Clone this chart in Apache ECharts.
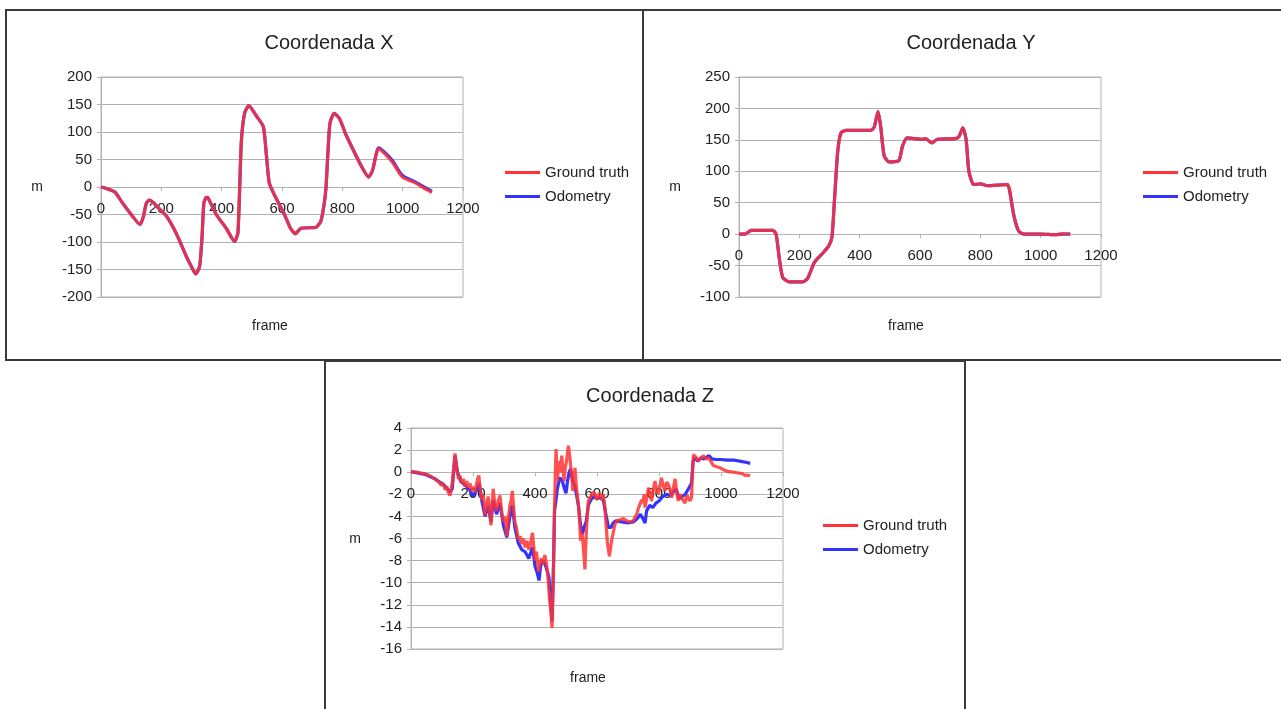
<!DOCTYPE html>
<html>
<head>
<meta charset="utf-8">
<script src="https://cdn.jsdelivr.net/npm/echarts@6/dist/echarts.min.js"></script>
<style>
  html, body { margin: 0; padding: 0; background: #fff; }
  #chart { width: 1281px; height: 709px; }
</style>
</head>
<body>
<div id="chart"></div>
<script>
// Coordenada X
const xFrames = [0, 20, 46, 70, 100, 129, 140, 150, 160, 173, 190, 217, 250, 283, 300, 314, 327, 335, 341, 349, 355, 382, 415, 443, 454, 465, 476, 490, 514, 538, 548, 558, 580, 608, 628, 644, 663, 713, 729, 740, 746, 752, 759, 773, 790, 812, 834, 861, 887, 900, 920, 938, 966, 999, 1043, 1070, 1097];
const xGround = [0, -3, -9, -28, -50, -68, -55, -30, -24, -28, -38, -53, -85, -126, -145, -158, -144, -90, -29, -19, -20, -50, -75, -99, -83, 80, 134, 148, 130, 110, 60, 7, -20, -50, -75, -85, -75, -73, -62, -30, 0, 60, 116, 134, 125, 95, 70, 40, 18, 30, 70, 62, 45, 18, 7, -2, -10];
const xOdometry = [0, -3, -9, -28, -50, -68, -55, -30, -24, -28, -38, -53, -85, -126, -145, -158, -144, -90, -29, -19, -20, -50, -75, -99, -83, 80, 134, 148, 130, 110, 60, 7, -20, -50, -75, -85, -75, -73, -62, -30, 0, 60, 116, 134, 125, 95, 70, 40, 18, 30, 71, 64, 48, 21, 9, 0, -8];

// Coordenada Y
const yFrames = [0, 19, 41, 80, 112, 123, 134, 145, 167, 211, 228, 250, 278, 297, 308, 316, 327, 338, 355, 400, 437, 448, 461, 470, 481, 497, 530, 542, 558, 608, 619, 639, 657, 718, 729, 742, 753, 762, 778, 801, 823, 889, 896, 911, 927, 944, 1000, 1050, 1075, 1098];
const yGround = [0, 0, 6, 6, 6, 0, -40, -69, -76, -76, -70, -45, -30, -19, -5, 50, 130, 161, 165, 165, 165, 170, 195, 170, 125, 115, 117, 140, 153, 151, 152, 145, 151, 152, 155, 169, 150, 100, 79, 80, 77, 79, 72, 30, 5, 0, 0, -1, 1, 0];
const yOdometry = [0, 0, 6, 6, 6, 0, -40, -69, -76, -76, -70, -45, -30, -19, -5, 50, 130, 161, 165, 165, 165, 170, 195, 170, 125, 115, 117, 140, 153, 151, 152, 145, 151, 152, 155, 169, 150, 100, 79, 80, 77, 79, 72, 30, 5, 0, 0, -1, 0, 0];

// Coordenada Z
const zGroundFrames = [0, 20, 45, 60, 77, 90, 99, 105, 110, 115, 120, 126, 130, 133, 138, 142, 147, 153, 158, 163, 169, 175, 180, 185, 190, 196, 201, 206, 212, 216, 219, 223, 228, 233, 239, 244, 249, 254, 258, 262, 265, 270, 276, 281, 287, 292, 298, 303, 309, 314, 319, 323, 327, 331, 335, 340, 346, 352, 357, 362, 368, 374, 380, 384, 388, 392, 396, 400, 405, 411, 416, 421, 426, 432, 438, 443, 447, 451, 455, 459, 463, 466, 468, 472, 475, 478, 482, 486, 490, 494, 498, 502, 505, 508, 513, 517, 522, 529, 534, 540, 544, 547, 552, 556, 561, 564, 567, 572, 578, 583, 588, 594, 599, 604, 608, 612, 616, 620, 625, 629, 634, 640, 644, 647, 652, 658, 665, 674, 685, 696, 706, 717, 722, 728, 733, 739, 744, 748, 752, 755, 760, 766, 771, 776, 782, 787, 792, 798, 803, 808, 814, 819, 825, 830, 836, 841, 846, 852, 857, 862, 868, 873, 879, 884, 890, 895, 900, 905, 908, 911, 916, 921, 926, 932, 937, 943, 950, 959, 967, 975, 986, 997, 1010, 1024, 1040, 1051, 1060, 1067, 1077, 1085, 1094];
const zGround = [0.05, 0, -0.15, -0.3, -0.6, -0.9, -1.2, -1.0, -1.6, -1.3, -1.8, -2.1, -1.5, -1.0, 0.5, 1.7, 0.5, -0.6, -0.3, -1.0, -0.6, -1.3, -0.8, -1.4, -1.0, -1.7, -1.3, -1.8, -1.0, -0.5, -0.3, -1.5, -2.5, -2.0, -3.9, -3.0, -2.2, -3.5, -4.8, -3.0, -1.5, -2.8, -3.5, -2.6, -2.1, -3.5, -4.5, -4.0, -5.8, -4.2, -3.0, -2.5, -1.7, -3.2, -4.5, -5.0, -6.1, -5.8, -6.5, -6.0, -6.8, -6.2, -7.0, -6.7, -6.0, -5.5, -6.8, -8.0, -7.2, -9.0, -8.2, -7.8, -8.3, -7.5, -8.5, -9.9, -11.5, -12.6, -14.1, -9.9, -3.2, 0.5, 2.1, -0.8, 0.2, 1.0, 0.0, 1.5, 0.3, -0.8, 0.5, 1.0, 1.8, 2.4, 1.2, 0.0, -1.7, 0.4, -1.5, -2.9, -4.5, -6.2, -5.5, -6.8, -8.8, -6.5, -4.7, -2.6, -2.3, -2.2, -1.8, -2.0, -2.5, -2.6, -1.9, -2.2, -2.5, -2.0, -3.0, -4.7, -6.5, -7.6, -6.8, -6.2, -5.5, -4.7, -4.4, -4.3, -4.2, -4.4, -4.5, -4.4, -4.1, -3.8, -3.3, -3.2, -2.5, -2.8, -2.0, -3.2, -2.4, -1.4, -2.0, -2.6, -1.5, -0.8, -1.5, -2.0, -1.2, -0.5, -1.3, -1.7, -0.9, -1.1, -1.6, -2.3, -1.5, -0.6, -1.8, -2.6, -2.0, -2.3, -2.6, -2.8, -2.1, -2.0, -2.6, -2.3, 0.0, 1.6, 1.5, 1.3, 1.0, 0.9, 1.3, 1.5, 1.2, 1.3, 1.0, 0.6, 0.5, 0.4, 0.2, 0.05, 0.0, -0.05, -0.1, -0.1, -0.3, -0.25, -0.35];
const zOdoFrames = [0, 45, 77, 99, 115, 126, 133, 142, 150, 160, 175, 190, 200, 212, 220, 228, 239, 249, 258, 265, 276, 287, 298, 309, 319, 327, 335, 346, 357, 368, 380, 392, 400, 406, 413, 418, 425, 432, 438, 445, 450, 455, 460, 463, 468, 472, 480, 488, 495, 500, 505, 510, 515, 522, 529, 540, 547, 553, 558, 565, 572, 580, 590, 600, 610, 620, 630, 637, 645, 652, 660, 680, 700, 717, 730, 740, 748, 755, 760, 770, 780, 790, 800, 812, 825, 836, 846, 855, 865, 875, 885, 895, 905, 910, 915, 925, 935, 945, 955, 962, 970, 985, 1000, 1020, 1040, 1060, 1080, 1094];
const zOdometry = [0.05, -0.2, -0.6, -1.0, -1.4, -1.8, -1.5, 1.5, 0.0, -0.8, -1.2, -1.6, -2.2, -1.6, -1.0, -2.5, -4.0, -3.0, -4.5, -2.5, -3.8, -2.8, -4.8, -5.9, -4.0, -3.0, -5.0, -6.4, -7.0, -7.2, -7.8, -6.8, -8.5, -9.0, -9.8, -8.5, -8.0, -8.3, -8.8, -9.5, -11.5, -13.5, -8.0, -3.5, -2.5, -1.5, -0.5, -0.8, -1.5, -1.9, -0.8, 0.0, 0.3, -0.8, -1.3, -3.0, -4.8, -5.6, -5.0, -4.5, -3.0, -2.5, -2.2, -2.4, -2.3, -2.5, -4.0, -5.0, -5.0, -4.6, -4.4, -4.5, -4.6, -4.5, -4.2, -3.8, -4.2, -4.6, -3.5, -3.0, -3.2, -2.8, -2.6, -2.2, -2.0, -2.1, -1.8, -1.5, -2.4, -2.2, -2.0, -1.5, -1.0, 1.0, 1.3, 1.0, 1.3, 1.2, 1.4, 1.5, 1.2, 1.15, 1.15, 1.1, 1.1, 1.0, 0.9, 0.8];

const seriesNames = ["Ground truth", "Odometry"];
const chartTitles = ["Coordenada X", "Coordenada Y", "Coordenada Z"];

const RED = "#ff3333";
const BLUE = "#3333ff";
const GRIDLINE = "#b3b3b3";
const TEXT = "#222";
const FONT = "'Liberation Sans', Arial, sans-serif";

const pairs = (fs, vs) => fs.map((f, i) => [f, vs[i]]);

const grids = [
  { left: 101, top: 77, width: 362, height: 220 },
  { left: 739, top: 77, width: 362, height: 220 },
  { left: 411, top: 428, width: 372, height: 221 },
];
const yRanges = [
  { min: -200, max: 200, interval: 50 },
  { min: -100, max: 250, interval: 50 },
  { min: -16, max: 4, interval: 2 },
];

const chart = echarts.init(document.getElementById("chart"));

// x axis sits on y = 0: shift it up from the grid bottom
const xAxes = grids.map((g, i) => ({
  type: "value",
  gridIndex: i,
  min: 0,
  max: 1200,
  interval: 200,
  position: "bottom",
  offset: -g.height * (0 - yRanges[i].min) / (yRanges[i].max - yRanges[i].min),
  axisLine: { onZero: false, lineStyle: { color: GRIDLINE } },
  axisTick: { show: true, length: 4, lineStyle: { color: GRIDLINE } },
  axisLabel: { color: TEXT, fontSize: 15, fontFamily: FONT, margin: 14, formatter: (v) => String(v) },
  splitLine: { show: false },
}));

const yAxes = yRanges.map((r, i) => ({
  type: "value",
  gridIndex: i,
  min: r.min,
  max: r.max,
  interval: r.interval,
  axisLine: { show: true, onZero: false, lineStyle: { color: GRIDLINE } },
  axisTick: { show: true, length: 4, lineStyle: { color: GRIDLINE } },
  axisLabel: { color: TEXT, fontSize: 15, fontFamily: FONT, margin: 9 },
  splitLine: { show: true, lineStyle: { color: GRIDLINE, width: 1 } },
}));

const lineSeries = (name, data, idx, color, opacity) => ({
  name,
  type: "line",
  xAxisIndex: idx,
  yAxisIndex: idx,
  data,
  showSymbol: false,
  smooth: 0.2,
  lineStyle: { color, width: 3.2, opacity },
  itemStyle: { color },
});

const seriesData = [
  [pairs(xFrames, xGround), pairs(xFrames, xOdometry)],
  [pairs(yFrames, yGround), pairs(yFrames, yOdometry)],
  [pairs(zGroundFrames, zGround), pairs(zOdoFrames, zOdometry)],
];

const series = [];
seriesData.forEach((d, i) => {
  // odometry underneath, ground truth on top (slightly see-through)
  series.push(lineSeries(seriesNames[1], d[1], i, BLUE, 1));
  series.push(lineSeries(seriesNames[0], d[0], i, RED, 0.85));
});
// the Z chart uses no smoothing (noisy signal)
series[4].smooth = false;
series[5].smooth = false;

const titleCenters = [[324, 28], [966, 28], [645, 381]];
const legendPos = [[500, 160], [1138, 160], [818, 513]];
const mPos = [[37, 187], [675, 187], [355, 539]];
const framePos = [[270, 326], [906, 326], [588, 678]];

const label = (text, x, y) => ({
  type: "text",
  x, y,
  style: { text, fill: TEXT, font: "14px " + FONT, textAlign: "center", textVerticalAlign: "middle" },
});

const box = (x, y, w, h) => ({
  type: "rect",
  shape: { x, y, width: w, height: h },
  style: { fill: null, stroke: "#3a3a3a", lineWidth: 2 },
  silent: true,
});

chart.setOption({
  animation: false,
  backgroundColor: "#fff",
  title: chartTitles.map((t, i) => ({
    text: t,
    left: titleCenters[i][0],
    top: titleCenters[i][1],
    textAlign: "center",
    textStyle: { fontSize: 20, fontWeight: "normal", color: TEXT, fontFamily: FONT },
  })),
  legend: legendPos.map((p) => ({
    data: seriesNames,
    orient: "vertical",
    left: p[0],
    top: p[1],
    itemGap: 9,
    itemWidth: 35,
    itemHeight: 3,
    icon: "rect",
    textStyle: { fontSize: 15, color: TEXT, fontFamily: FONT },
  })),
  grid: grids.map((g) => ({ ...g, show: true, borderColor: GRIDLINE, borderWidth: 1, containLabel: false })),
  xAxis: xAxes,
  yAxis: yAxes,
  series,
  graphic: [
    box(6, 10, 637, 350),
    box(643, 10, 660, 350),
    box(325, 361, 640, 370),
    ...mPos.map((p) => label("m", p[0], p[1])),
    ...framePos.map((p) => label("frame", p[0], p[1])),
  ],
});

window.addEventListener("resize", () => chart.resize());
</script>
</body>
</html>
